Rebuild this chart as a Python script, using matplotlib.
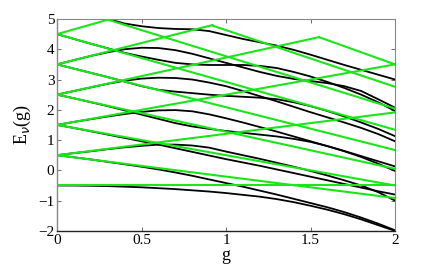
import matplotlib
matplotlib.use("Agg")
import matplotlib.pyplot as plt
import numpy as np

# coupling grid for the black curves
g_grid = [0.0, 0.1, 0.2, 0.3, 0.4, 0.5, 0.6, 0.7, 0.8, 0.9, 1.0,
          1.1, 1.2, 1.3, 1.4, 1.5, 1.6, 1.7, 1.8, 1.9, 2.0]

# black curves (exact spectrum)
e1 = [-0.5, -0.502, -0.51, -0.52, -0.54, -0.56, -0.59, -0.62, -0.66, -0.70, -0.75,
      -0.81, -0.87, -0.95, -1.05, -1.17, -1.30, -1.45, -1.62, -1.81, -2.0]
o1 = [0.5, 0.43, 0.36, 0.28, 0.20, 0.12, 0.03, -0.07, -0.18, -0.30, -0.42,
      -0.54, -0.67, -0.80, -0.94, -1.08, -1.22, -1.38, -1.56, -1.76, -1.98]
e2 = [1.5, 1.40, 1.29, 1.18, 1.07, 0.96, 0.85, 0.73, 0.61, 0.49, 0.37,
      0.26, 0.15, 0.03, -0.09, -0.21, -0.33, -0.45, -0.57, -0.69, -0.80]
o2 = [0.5, 0.57, 0.63, 0.70, 0.76, 0.81, 0.85, 0.85, 0.82, 0.75, 0.62,
      0.50, 0.38, 0.25, 0.12, -0.02, -0.17, -0.33, -0.50, -0.72, -1.0]
e3 = [1.5, 1.60, 1.69, 1.78, 1.86, 1.93, 1.98, 1.99, 1.95, 1.85, 1.72,
      1.58, 1.43, 1.28, 1.12, 0.96, 0.80, 0.64, 0.47, 0.30, 0.13]
o3 = [2.5, 2.38, 2.25, 2.12, 1.98, 1.84, 1.70, 1.56, 1.45, 1.37, 1.30,
      1.24, 1.18, 1.12, 1.04, 0.94, 0.80, 0.63, 0.44, 0.22, -0.02]
e4 = [3.5, 3.36, 3.22, 3.08, 2.93, 2.78, 2.66, 2.60, 2.55, 2.50, 2.46,
      2.43, 2.40, 2.35, 2.25, 2.12, 1.96, 1.78, 1.58, 1.37, 1.13]
o4 = [2.5, 2.62, 2.74, 2.86, 2.96, 3.03, 3.06, 3.05, 3.0, 2.90, 2.78,
      2.62, 2.45, 2.28, 2.10, 1.92, 1.75, 1.58, 1.40, 1.20, 0.96]
e5 = [3.5, 3.64, 3.78, 3.90, 4.0, 4.05, 4.04, 3.97, 3.85, 3.70, 3.55,
      3.40, 3.25, 3.12, 3.02, 2.95, 2.88, 2.78, 2.62, 2.35, 2.07]
o5 = [4.5, 4.34, 4.18, 4.03, 3.88, 3.76, 3.65, 3.55, 3.50, 3.48, 3.48,
      3.48, 3.45, 3.38, 3.25, 3.10, 2.92, 2.72, 2.50, 2.25, 1.96]
e6 = [None, None, None, 5.0, 4.85, 4.76, 4.70, 4.67, 4.66, 4.60, 4.47,
      4.34, 4.23, 4.12, 3.98, 3.82, 3.65, 3.48, 3.32, 3.16, 3.0]
black_curves = [e1, o1, e2, o2, e3, o3, e4, o4, e5, o5, e6]

# green straight lines (rotating-wave spectrum): start/end points
green_g0 = [0.0, 0.0, 0.0, 0.0, 0.0, 0.0, 0.0, 0.0, 0.0, 0.0, 0.0, 0.31, 0.92, 1.55]
green_E0 = [-0.5, 0.5, 0.5, 1.5, 1.5, 2.5, 2.5, 3.5, 3.5, 4.5, 4.5, 4.96, 4.78, 4.40]
green_g1 = [2.0, 2.0, 2.0, 2.0, 2.0, 1.55, 2.0, 0.92, 2.0, 0.31, 2.0, 2.0, 2.0, 2.0]
green_E1 = [-0.5, 1.914, -0.914, 3.5, -0.5, 4.40, 0.05, 4.80, 0.67, 4.99, 1.34, 2.04, 2.76, 3.5]

xticks = [0, 0.5, 1, 1.5, 2]
xtick_labels = ["0", "0.5", "1", "1.5", "2"]
yticks = [-2, -1, 0, 1, 2, 3, 4, 5]
ytick_labels = ["\u22122", "\u22121", "0", "1", "2", "3", "4", "5"]

plt.rcParams['font.family'] = ['Liberation Serif', 'DejaVu Serif']

fig = plt.figure(figsize=(4.36, 2.71), dpi=100)
ax = fig.add_axes([0.131, 0.148, 0.775, 0.782])

for curve in black_curves:
    gg = [g for g, e in zip(g_grid, curve) if e is not None]
    ee = [e for e in curve if e is not None]
    ax.plot(gg, ee, color='black', lw=1.3, solid_capstyle='round', zorder=2)

for a0, b0, a1, b1 in zip(green_g0, green_E0, green_g1, green_E1):
    ax.plot([a0, a1], [b0, b1], color='#19e619', lw=1.5, zorder=3)

ax.set_xlim(0, 2)
ax.set_ylim(-2, 5)
ax.set_xticks(xticks)
ax.set_xticklabels(xtick_labels, fontsize=11)
ax.set_yticks(yticks)
ax.set_yticklabels(ytick_labels, fontsize=11)
ax.tick_params(direction='in', top=True, right=True, length=3, width=0.6,
               color='#555555', pad=2)
for name, s in ax.spines.items():
    s.set_color('#222222' if name == 'bottom' else '#888888')
    s.set_linewidth(1.0 if name in ('bottom', 'left') else 0.8)
ax.set_xlabel('g', fontsize=13, labelpad=0)
ax.set_ylabel(r'E$_\nu$(g)', fontsize=13, labelpad=4)

fig.savefig('out.png', dpi=100)
